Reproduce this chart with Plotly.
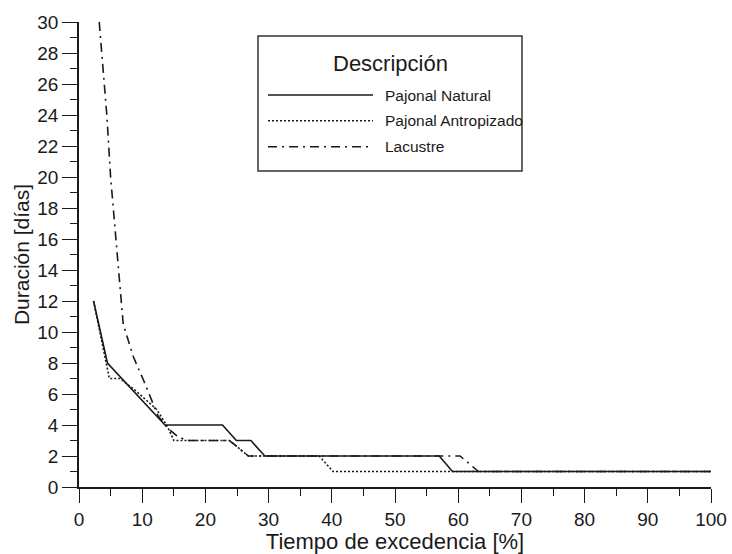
import plotly.graph_objects as go

# Curvas de duración: tiempo de excedencia [%] vs duración [días]
natural_x = [2.3, 4.5, 13.6, 22.7, 24.9, 27.2, 29.4, 57.0, 59.1, 100]
natural_y = [12, 8, 4, 4, 3, 3, 2, 2, 1, 1]

antropizado_x = [2.3, 4.5, 4.8, 6.5, 9.0, 12.3, 14.0, 15.0, 23.8, 26.8, 38.0, 40.2, 100]
antropizado_y = [12, 7.8, 7, 7, 6.2, 5.0, 3.9, 3, 3, 2, 2, 1, 1]

lacustre_x = [3.2, 3.6, 4.4, 5.0, 6.2, 6.6, 7.0, 8.6, 10.2, 12.5, 14.0, 15.5, 17.0,
              23.8, 26.8, 60.3, 63.2, 100]
lacustre_y = [30, 28, 24, 20, 14, 12, 10.5, 8.4, 6.9, 4.6, 3.8, 3.3, 3,
              3, 2, 2, 1, 1]

series_names = ["Pajonal Natural", "Pajonal Antropizado", "Lacustre"]
legend_title = "Descripción"
x_title = "Tiempo de excedencia [%]"
y_title = "Duración [días]"

dashes = ["solid", "2px,2px", "9px,5px,2px,5px"]
FONT = "Liberation Sans, Arial, sans-serif"
INK = "#1a1a1a"

fig = go.Figure()
for name, xs, ys, dash in zip(series_names,
                              [natural_x, antropizado_x, lacustre_x],
                              [natural_y, antropizado_y, lacustre_y],
                              dashes):
    fig.add_trace(go.Scatter(x=xs, y=ys, mode="lines", name=name,
                             line=dict(color=INK, width=1.6, dash=dash),
                             showlegend=False))

# Legend drawn as a framed box with long line samples
fig.add_shape(type="rect", xref="paper", yref="paper",
              x0=0.2832, x1=0.7009, y0=0.6796, y1=0.9699,
              line=dict(color="#333333", width=1.5), fillcolor="white", layer="above")
fig.add_annotation(xref="paper", yref="paper", x=0.4921, y=0.9097,
                   text=legend_title, showarrow=False, xanchor="center", yanchor="middle",
                   font=dict(family=FONT, size=22, color=INK))
sample_y = [0.8430, 0.7877, 0.7318]
for name, dash, yy in zip(series_names, dashes, sample_y):
    fig.add_shape(type="line", xref="paper", yref="paper",
                  x0=0.2991, x1=0.4652, y0=yy, y1=yy,
                  line=dict(color=INK, width=1.6, dash=dash), layer="above")
    fig.add_annotation(xref="paper", yref="paper", x=0.4815, y=yy,
                       text=name, showarrow=False, xanchor="left", yanchor="middle",
                       font=dict(family=FONT, size=15.5, color=INK))

axis_common = dict(showline=True, linecolor=INK, linewidth=1.6, mirror=False,
                   showgrid=False, zeroline=False, ticks="outside",
                   tickcolor=INK, tickwidth=1.4, automargin=False,
                   tickfont=dict(family=FONT, size=19, color=INK))

fig.update_xaxes(range=[0, 100], tick0=0, dtick=10, ticklen=14,
                 minor=dict(dtick=5, tick0=0, ticklen=7, ticks="outside",
                            tickcolor=INK, tickwidth=1.4, showgrid=False),
                 title=dict(text=x_title, font=dict(family=FONT, size=22, color=INK),
                            standoff=4),
                 **axis_common)
fig.update_yaxes(range=[0, 30], tick0=0, dtick=2, ticklen=15,
                 minor=dict(dtick=1, tick0=0, ticklen=7, ticks="outside",
                            tickcolor=INK, tickwidth=1.4, showgrid=False),
                 title=dict(text=y_title, font=dict(family=FONT, size=21, color=INK),
                            standoff=2),
                 **axis_common)

fig.update_layout(width=732, height=554, paper_bgcolor="white", plot_bgcolor="white",
                  margin=dict(l=79, r=21, t=22, b=67), showlegend=False)

fig.write_html("out.html")
